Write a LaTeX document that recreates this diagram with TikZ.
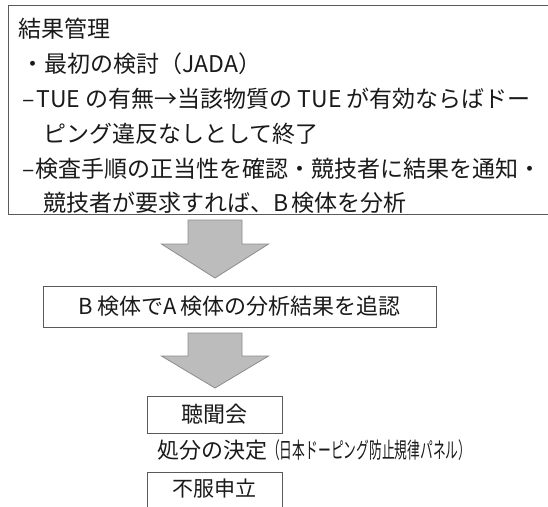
\documentclass[tikz,border=0pt]{standalone}
\usepackage{fontspec}
\setmainfont{Noto Sans CJK JP}
\usepackage{graphicx}
\definecolor{boxline}{HTML}{5A5A5A}
\definecolor{textcol}{HTML}{1A1A1A}
\definecolor{arrfill}{HTML}{BCBCBC}
\definecolor{arrline}{HTML}{8C8C8C}
\begin{document}
\begin{tikzpicture}[x=1pt,y=-1pt,
  box/.style={draw=boxline, line width=0.9pt, inner sep=0pt},
  big/.style={font=\fontsize{23}{23}\selectfont, text=textcol, inner sep=0pt},
  mid/.style={font=\fontsize{22}{22}\selectfont, text=textcol, inner sep=0pt},
  small/.style={font=\fontsize{21}{21}\selectfont, text=textcol, inner sep=0pt},
  blockarrow/.style={fill=arrfill, draw=arrline, line width=0.8pt, line join=miter}]
\useasboundingbox (0,0) rectangle (548,506);
\fill[white] (0,0) rectangle (548,506);
% top box
\node[box, anchor=north west, minimum width=560, minimum height=209] (res) at (8,5) {};
\node[big, anchor=base west] (l1) at (18,37) {結果管理};
\node[big, anchor=base west] (l2) at (21,72) {・最初の検討（JADA）};
\node[big, anchor=base west] (l3) at (22,107) {–\hspace{2pt}TUE の有無→当該物質の TUE が有効ならばドー};
\node[big, anchor=base west] (l4) at (43,142) {ピング違反なしとして終了};
\node[big, anchor=base west] (l5) at (22,177) {–\hspace{1pt}検査手順の正当性を確認・競技者に結果を通知・};
\node[big, anchor=base west] (l6) at (43,211) {競技者が要求すれば、B\hspace{3pt}検体を分析};
% second box
\node[box, mid, minimum width=393, minimum height=41] (b2) at (239.5,306.5) {B\hspace{4pt}検体でA\hspace{4pt}検体の分析結果を追認};
% hearing box
\node[box, mid, minimum width=135, minimum height=37] (hear) at (214.5,414.5) {聴聞会};
\node[mid, anchor=base west] (dec) at (157,458) {処分の決定\scalebox{0.58}[1]{（日本ドーピング防止規律パネル）}};
\node[box, anchor=north, minimum width=135, minimum height=60] (app) at (214.5,472) {};
\node[small] (appt) at (214.5,489) {不服申立};
% block arrows
\coordinate (a1s) at (215,220);
\coordinate (a1t) at (215,278);
\coordinate (a2s) at (215,333);
\coordinate (a2t) at (215,388);
\draw[blockarrow] (a1s) ++(-27,0) -- ++(54,0) -- ++(0,24) -- ++(26.5,0) -- (a1t) -- ++(-53.5,-34) -- ++(26.5,0) -- cycle;
\draw[blockarrow] (a2s) ++(-27,0) -- ++(54,0) -- ++(0,23) -- ++(26.5,0) -- (a2t) -- ++(-53.5,-32) -- ++(26.5,0) -- cycle;
\end{tikzpicture}
\end{document}
